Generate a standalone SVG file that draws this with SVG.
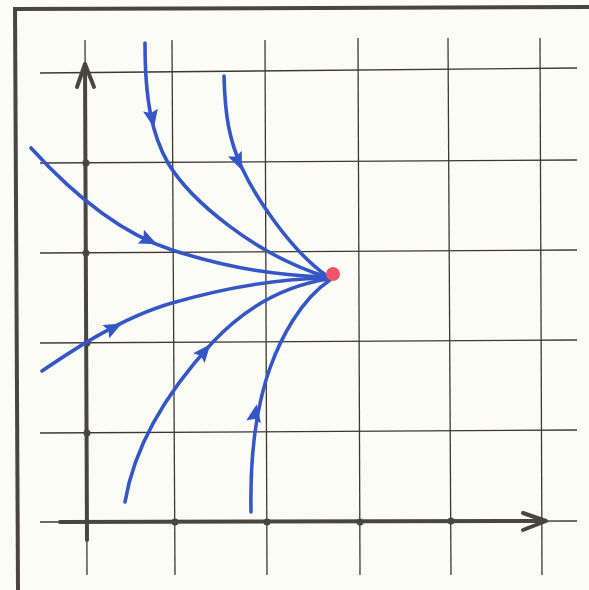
<svg xmlns="http://www.w3.org/2000/svg" width="589" height="590" viewBox="0 0 589 590">
  <style>
    .grid { stroke: #3d3833; stroke-width: 1.3; fill: none; }
    .frame { stroke: #4a4541; stroke-width: 4; fill: none; }
    .axis { stroke: #4a4541; stroke-width: 4; fill: none; stroke-linecap: round; stroke-linejoin: round; }
    .dot { fill: #4a4541; }
    .traj { stroke: #3557c6; stroke-width: 3.6; fill: none; stroke-linecap: round; }
    .head { fill: #3557c6; }
  </style>
  <defs>
    <path id="ah" d="M10,0 L-8,-7.5 L-5,0 L-8,7.5 Z"/>
  </defs>
  <rect x="0" y="0" width="589" height="590" fill="#fcfcf7"/>
  <g id="frame">
    <line class="frame" x1="15" y1="9" x2="589" y2="7"/>
    <line class="frame" x1="15" y1="7" x2="18" y2="590"/>
  </g>
  <g id="grid">
    <line class="grid" x1="85" y1="40" x2="87" y2="575"/>
    <line class="grid" x1="172" y1="40" x2="175" y2="575"/>
    <line class="grid" x1="265" y1="40" x2="267" y2="575"/>
    <line class="grid" x1="358" y1="38" x2="360" y2="575"/>
    <line class="grid" x1="448" y1="38" x2="451" y2="575"/>
    <line class="grid" x1="540" y1="38" x2="542" y2="575"/>
    <line class="grid" x1="40" y1="73" x2="577" y2="68"/>
    <line class="grid" x1="40" y1="163" x2="577" y2="160"/>
    <line class="grid" x1="40" y1="253" x2="577" y2="250"/>
    <line class="grid" x1="40" y1="343" x2="577" y2="340"/>
    <line class="grid" x1="40" y1="433" x2="577" y2="430"/>
    <line class="grid" x1="40" y1="522" x2="577" y2="521"/>
  </g>
  <g id="axes">
    <line class="axis" x1="87" y1="540" x2="85" y2="65"/>
    <polyline class="axis" points="77,87 85,64 94,87"/>
    <line class="axis" x1="60" y1="522" x2="545" y2="521"/>
    <polyline class="axis" points="523,513 546,521 523,530"/>
    <circle class="dot" cx="86" cy="163" r="3.5"/>
    <circle class="dot" cx="86" cy="253" r="3.5"/>
    <circle class="dot" cx="87" cy="343" r="3.5"/>
    <circle class="dot" cx="87" cy="433" r="3.5"/>
    <circle class="dot" cx="175" cy="522" r="3.5"/>
    <circle class="dot" cx="267" cy="522" r="3.5"/>
    <circle class="dot" cx="360" cy="522" r="3.5"/>
    <circle class="dot" cx="451" cy="521" r="3.5"/>
  </g>
  <g id="trajectories">
    <path class="traj" d="M145,43 C145,100 152,135 168,163 C190,200 255,255 327,277"/>
    <path class="traj" d="M224,76 C225,115 229,140 242,168 C255,196 290,250 327,276"/>
    <path class="traj" d="M31,148 C60,180 110,230 172,250 C234,270 280,275 325,277"/>
    <path class="traj" d="M42,371 C70,352 120,318 172,303 C224,288 280,279 325,278"/>
    <path class="traj" d="M125,502 C132,460 155,405 212,343 C250,302 290,285 328,279"/>
    <path class="traj" d="M251,512 C250,460 255,410 270,368 C280,340 300,300 330,280"/>
    <use href="#ah" class="head" transform="translate(152,118) rotate(79)"/>
    <use href="#ah" class="head" transform="translate(238,161) rotate(67)"/>
    <use href="#ah" class="head" transform="translate(148,240) rotate(25)"/>
    <use href="#ah" class="head" transform="translate(113,328) rotate(-27)"/>
    <use href="#ah" class="head" transform="translate(204,352) rotate(-50)"/>
    <use href="#ah" class="head" transform="translate(255,414) rotate(-80)"/>
  </g>
  <g id="equilibrium">
    <circle cx="333" cy="274" r="7" fill="#f05468"/>
  </g>
</svg>
